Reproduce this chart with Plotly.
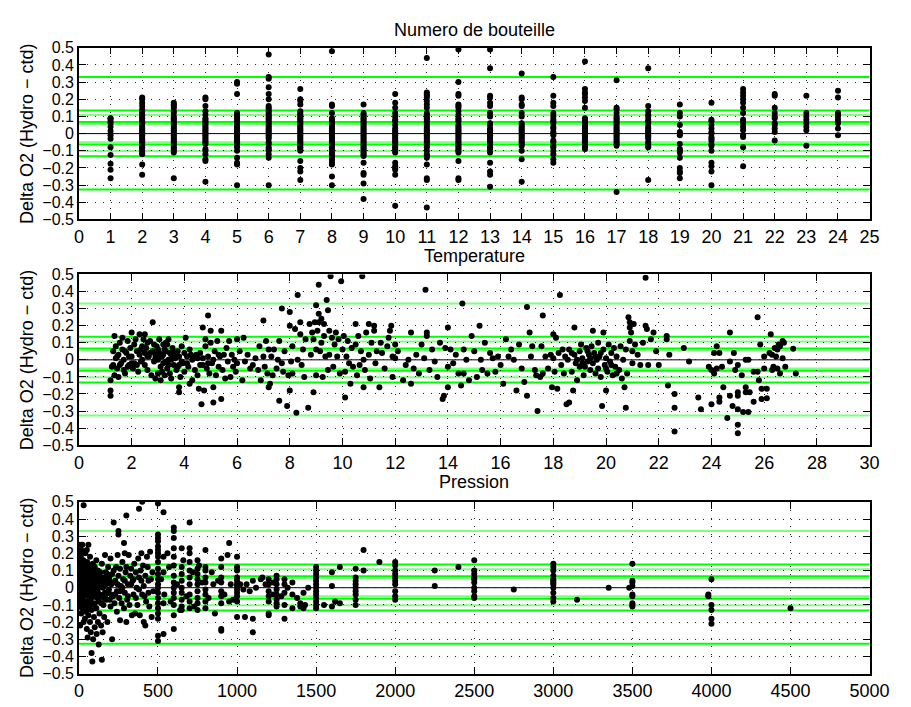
import plotly.graph_objects as go

# ---------------- data: panel 1 (bottle number) ----------------
b01 = [0.09, 0.088, 0.073, 0.06, 0.04, 0.015, -0.01, -0.03, -0.08, -0.125, -0.175, -0.21, -0.26]
b02 = [0.21, 0.2, 0.18, 0.16, 0.14, 0.13, 0.12, 0.11, 0.1, 0.09, 0.08, 0.07, 0.065, 0.06, 0.05, 0.04, 0.03, 0.02, 0.01, 0.005, 0.0,
       -0.01, -0.02, -0.03, -0.04, -0.05, -0.06, -0.07, -0.08, -0.09, -0.1, -0.11, -0.12, -0.18, -0.24]
b03 = [0.18, 0.17, 0.16, 0.15, 0.13, 0.12, 0.1, 0.09, 0.08, 0.07, 0.06, 0.05, 0.04, 0.03, 0.02, 0.01, 0.0, -0.01, -0.02, -0.03,
       -0.04, -0.05, -0.06, -0.07, -0.08, -0.09, -0.1, -0.11, -0.26]
b04 = [0.21, 0.2, 0.16, 0.13, 0.11, 0.09, 0.08, 0.07, 0.06, 0.05, 0.04, 0.03, 0.02, 0.01, 0.0, -0.01, -0.02, -0.03, -0.04, -0.05,
       -0.06, -0.09, -0.1, -0.12, -0.15, -0.16, -0.28]
b05 = [0.3, 0.29, 0.23, 0.12, 0.11, 0.1, 0.09, 0.08, 0.07, 0.06, 0.05, 0.04, 0.03, 0.02, 0.01, 0.0, -0.01, -0.02, -0.03, -0.04,
       -0.05, -0.06, -0.07, -0.08, -0.1, -0.14, -0.17, -0.18, -0.3]
b06 = [0.46, 0.33, 0.32, 0.27, 0.23, 0.2, 0.16, 0.15, 0.14, 0.13, 0.12, 0.11, 0.1, 0.09, 0.08, 0.07, 0.06, 0.05, 0.04, 0.03, 0.02,
       0.01, 0.0, -0.01, -0.02, -0.03, -0.05, -0.06, -0.08, -0.09, -0.1, -0.12, -0.14, -0.3]
b07 = [0.26, 0.2, 0.19, 0.17, 0.13, 0.12, 0.11, 0.1, 0.09, 0.08, 0.07, 0.06, 0.05, 0.04, 0.03, 0.02, 0.01, 0.0, -0.01, -0.02,
       -0.03, -0.04, -0.05, -0.06, -0.07, -0.08, -0.09, -0.1, -0.16, -0.2, -0.22, -0.27]
b08 = [0.48, 0.17, 0.16, 0.12, 0.09, 0.08, 0.07, 0.06, 0.05, 0.04, 0.03, 0.02, 0.01, 0.0, -0.01, -0.02, -0.03, -0.04, -0.05, -0.06,
       -0.07, -0.08, -0.09, -0.1, -0.11, -0.12, -0.13, -0.14, -0.15, -0.16, -0.17, -0.18, -0.25, -0.3]
b09 = [0.17, 0.12, 0.11, 0.1, 0.09, 0.08, 0.07, 0.06, 0.05, 0.04, 0.03, 0.02, 0.01, 0.0, -0.01, -0.02, -0.03, -0.04, -0.05, -0.06,
       -0.07, -0.08, -0.09, -0.1, -0.11, -0.12, -0.13, -0.17, -0.23, -0.24, -0.29, -0.38]
b10 = [0.23, 0.18, 0.15, 0.12, 0.1, 0.08, 0.07, 0.05, 0.03, 0.02, 0.01, 0.0, -0.01, -0.02, -0.03, -0.04, -0.05, -0.06, -0.07,
       -0.08, -0.09, -0.1, -0.11, -0.17, -0.19, -0.2, -0.21, -0.24, -0.42]
b11 = [0.44, 0.24, 0.23, 0.22, 0.21, 0.19, 0.17, 0.15, 0.12, 0.11, 0.1, 0.09, 0.08, 0.07, 0.06, 0.05, 0.04, 0.03, 0.02, 0.01, 0.0,
       -0.01, -0.02, -0.03, -0.04, -0.05, -0.06, -0.07, -0.08, -0.1, -0.12, -0.13, -0.14, -0.18, -0.26, -0.27, -0.43]
b12 = [0.49, 0.3, 0.23, 0.22, 0.17, 0.16, 0.15, 0.13, 0.11, 0.09, 0.08, 0.07, 0.05, 0.04, 0.03, 0.02, 0.01, 0.0, -0.01, -0.02,
       -0.03, -0.04, -0.05, -0.06, -0.07, -0.08, -0.09, -0.1, -0.11, -0.16, -0.26, -0.27]
b13 = [0.49, 0.38, 0.22, 0.21, 0.18, 0.16, 0.12, 0.1, 0.06, 0.05, 0.03, 0.02, 0.01, 0.0, -0.01, -0.02, -0.03, -0.04, -0.05, -0.06,
       -0.07, -0.08, -0.09, -0.11, -0.17, -0.22, -0.24, -0.31]
b14 = [0.35, 0.21, 0.2, 0.17, 0.16, 0.12, 0.1, 0.06, 0.05, 0.04, 0.03, 0.02, 0.01, 0.0, -0.01, -0.02, -0.03, -0.04, -0.05, -0.06,
       -0.07, -0.1, -0.15, -0.28]
b15 = [0.33, 0.22, 0.18, 0.16, 0.12, 0.1, 0.08, 0.07, 0.06, 0.04, 0.03, 0.01, 0.0, -0.01, -0.04, -0.05, -0.07, -0.08, -0.1, -0.12,
       -0.15, -0.17]
b16 = [0.42, 0.26, 0.24, 0.23, 0.21, 0.19, 0.15, 0.09, 0.08, 0.07, 0.06, 0.05, 0.04, 0.03, 0.02, 0.01, 0.0, -0.01, -0.02, -0.03,
       -0.04, -0.05, -0.06, -0.07, -0.08, -0.09]
b17 = [0.31, 0.15, 0.14, 0.12, 0.1, 0.09, 0.08, 0.07, 0.06, 0.05, 0.04, 0.03, 0.02, 0.01, 0.0, -0.01, -0.02, -0.03, -0.04, -0.05,
       -0.06, -0.07, -0.34]
b18 = [0.38, 0.16, 0.13, 0.11, 0.1, 0.08, 0.07, 0.06, 0.04, 0.03, 0.02, 0.01, 0.0, -0.01, -0.02, -0.03, -0.05, -0.06, -0.07, -0.08,
       -0.27]
b19 = [0.17, 0.12, 0.1, 0.05, 0.01, 0.0, -0.01, -0.06, -0.09, -0.1, -0.11, -0.14, -0.2, -0.22, -0.23, -0.26]
b20 = [0.18, 0.08, 0.07, 0.05, 0.03, 0.01, 0.0, -0.02, -0.03, -0.04, -0.06, -0.07, -0.1, -0.17, -0.19, -0.22, -0.3]
b21 = [0.26, 0.24, 0.22, 0.2, 0.18, 0.15, 0.12, 0.08, 0.07, 0.06, 0.04, 0.02, -0.01, -0.02, -0.08, -0.19]
b22 = [0.23, 0.22, 0.15, 0.12, 0.1, 0.09, 0.06, 0.05, 0.03, 0.01, -0.04]
b23 = [0.22, 0.12, 0.1, 0.08, 0.06, 0.04, 0.02, -0.07]
b24 = [0.25, 0.21, 0.12, 0.11, 0.1, 0.08, 0.06, 0.03, -0.01]
bottle_deltas = [b01, b02, b03, b04, b05, b06, b07, b08, b09, b10, b11, b12,
                 b13, b14, b15, b16, b17, b18, b19, b20, b21, b22, b23, b24]

# ---------------- data: panel 2 (temperature, delta) ----------------
temp_pts_a = [(1.2,-0.12),(1.2,-0.18),(1.2,-0.21),(1.25,-0.04),(1.3,0.05),(1.3,-0.03),(1.35,0.14),(1.35,-0.09),(1.4,0.01),(1.4,0.08),
    (1.45,-0.05),(1.5,0.03),(1.5,-0.1),(1.55,0.1),(1.6,-0.02),(1.65,0.13),(1.65,0.06),(1.7,-0.06),(1.7,0.0),(1.75,-0.08),(1.8,0.04),
    (1.85,0.11),(1.9,-0.03),(1.95,0.07),(2.0,0.16),(2.0,0.02),(2.05,-0.05),(2.1,0.09),(2.1,-0.02),(2.15,0.12),(2.2,0.05),(2.25,-0.07),
    (2.3,0.15),(2.3,0.03),(2.35,-0.01),(2.4,0.08),(2.45,0.12),(2.5,0.15),(2.5,0.04),(2.5,-0.03),(2.55,0.07),(2.6,0.1),(2.6,-0.06),
    (2.65,0.02),(2.7,0.11),(2.75,-0.09),(2.8,0.22),(2.8,0.05),(2.85,-0.01),(2.9,0.03),(2.9,-0.11),(2.95,0.08),(3.0,0.0),(3.0,-0.08),
    (3.05,0.12),(3.05,0.04),(3.1,-0.04),(3.1,-0.12),(3.15,0.02),(3.2,0.09),(3.2,-0.02),(3.25,-0.09),(3.3,0.1),(3.3,0.05),(3.35,-0.05),
    (3.4,0.0),(3.4,0.12),(3.45,-0.08),(3.5,0.03),(3.5,-0.11),(3.55,0.07),(3.6,-0.03),(3.65,0.01),(3.7,-0.06),(3.75,0.05),(3.8,-0.16),
    (3.8,-0.19),(3.8,0.02),(3.85,-0.1),(3.9,0.08),(3.95,-0.02),(4.0,0.04),(4.0,-0.07),(4.05,0.13),(4.1,0.02),(4.15,-0.04),(4.2,-0.14),
    (4.2,0.06),(4.3,-0.12),(4.35,0.01),(4.4,-0.06),(4.45,0.03),(4.5,-0.09),(4.55,-0.17),(4.6,0.04),(4.65,-0.26),(4.7,0.19),(4.7,-0.03),
    (4.75,-0.18),(4.8,0.12),(4.8,0.08),(4.85,-0.05),(4.9,0.26),(4.9,0.02),(4.95,-0.08),(5.0,0.17),(5.0,0.1),(5.05,-0.02),(5.1,-0.16),
    (5.1,-0.25),(5.15,0.05),(5.2,-0.09),(5.25,0.11),(5.3,-0.04),(5.35,0.02),(5.4,0.17),(5.4,-0.23),(5.45,-0.06),(5.5,0.03),(5.55,-0.11),
    (5.6,0.07),(5.65,-0.01),(5.7,0.11),(5.75,-0.1),(5.8,0.03),(5.85,-0.04),(5.9,0.0),(5.95,-0.07),(6.0,0.12),(6.0,-0.02),
    (1.45,0.02),(1.55,-0.03),(1.75,0.05),(1.9,0.02),(2.0,-0.02),(2.2,-0.03),(2.4,0.0),(2.6,0.02),(2.7,0.04),(2.9,0.01),(3.0,0.06),
    (3.1,0.02),(3.2,0.03),(3.3,-0.01),(3.4,-0.03),(3.5,0.0),(3.6,0.04),(3.7,0.02),(3.8,-0.03),(3.9,-0.01),(4.1,-0.02),(4.3,0.0),
    (4.5,0.01),(4.7,0.01),(4.9,-0.02),(5.1,0.0),(5.3,0.03),(3.35,0.09),(3.25,0.06),(2.85,0.09),(2.35,0.06),(1.85,-0.04),(3.15,-0.07),
    (3.45,0.04),(3.75,-0.04),(4.25,0.03),(4.6,-0.03)]
temp_pts_b = [(6.1,0.05),(6.2,-0.12),(6.25,0.13),(6.3,-0.01),(6.4,0.03),(6.5,-0.05),(6.6,-0.03),(6.7,0.01),(6.8,-0.06),(6.85,0.08),
    (6.9,-0.12),(7.0,0.23),(7.0,0.02),(7.05,-0.04),(7.1,0.11),(7.15,-0.08),(7.2,0.06),(7.2,-0.16),(7.25,-0.14),(7.3,0.02),(7.35,-0.09),
    (7.4,0.06),(7.5,-0.05),(7.55,0.0),(7.6,0.11),(7.6,-0.24),(7.7,0.3),(7.7,-0.02),(7.75,-0.07),(7.8,0.05),(7.9,-0.27),(7.95,-0.09),
    (8.0,0.28),(8.0,0.2),(8.0,-0.18),(8.05,-0.01),(8.1,0.08),(8.1,-0.08),(8.2,0.18),(8.25,-0.31),(8.3,0.38),(8.3,0.0),(8.4,0.22),
    (8.4,0.15),(8.45,-0.03),(8.5,0.06),(8.55,-0.1),(8.6,0.12),(8.7,-0.28),(8.75,0.21),(8.8,0.03),(8.85,0.16),(8.9,-0.19),(8.9,0.12),
    (8.95,0.22),(9.0,0.32),(9.0,0.06),(9.0,-0.09),(9.05,0.17),(9.1,0.44),(9.1,0.27),(9.1,0.22),(9.15,0.05),(9.2,0.24),(9.2,0.1),
    (9.25,-0.1),(9.3,0.21),(9.3,0.14),(9.35,0.02),(9.4,0.35),(9.45,0.29),(9.45,-0.06),(9.5,0.17),(9.5,0.03),(9.55,0.49),(9.6,0.13),
    (9.65,-0.04),(9.7,0.09),(9.75,0.16),(9.8,0.02),(9.85,0.12),(9.9,-0.08),(9.95,0.46),(10.0,0.06),(10.05,0.14),(10.1,-0.22),
    (10.1,-0.07),(10.15,0.02),(10.2,0.11),(10.25,-0.02),(10.3,-0.14),(10.35,0.07),(10.4,-0.04),(10.5,0.21),(10.5,0.09),(10.55,-0.09),
    (10.6,0.14),(10.65,-0.03),(10.7,0.05),(10.75,0.49),(10.8,-0.16),(10.8,0.0),(10.85,-0.06),(10.9,0.16),(11.0,0.21),(11.0,0.03),
    (11.05,-0.11),(11.1,0.1),(11.2,0.17),(11.2,0.2),(11.25,-0.02),(11.3,0.05),(11.4,-0.16),(11.45,0.1),(11.5,0.04),(11.6,-0.05),
    (11.7,0.08),(11.75,0.13),(11.8,0.17),(11.85,0.2),(11.9,0.02),(11.9,-0.1),(12.0,0.09),(12.0,0.01),(12.1,0.05),(12.3,-0.12),
    (12.4,-0.03),(12.5,0.0),(12.6,-0.14),(12.6,0.16),(12.7,-0.05),(12.8,0.03),(12.9,-0.08),(13.0,0.09),(13.1,0.01),(13.15,0.41),
    (13.2,0.16),(13.2,0.14),(13.3,-0.06),(13.4,0.06),(13.5,-0.01),(13.6,-0.1),(13.7,0.1),(13.8,-0.23),(13.85,-0.21),(13.9,0.07),
    (14.0,-0.16),(14.0,0.19),(14.0,-0.04)]
temp_pts_c = [(14.1,0.06),(14.2,-0.02),(14.3,0.03),(14.4,-0.08),(14.5,-0.15),(14.55,0.33),(14.6,-0.08),(14.6,0.06),(14.7,0.0),
    (14.8,-0.12),(14.9,0.14),(15.0,0.05),(15.1,-0.1),(15.2,0.2),(15.25,0.0),(15.3,-0.06),(15.4,0.1),(15.5,-0.08),(15.6,0.04),
    (15.7,0.01),(15.8,-0.07),(15.9,0.02),(16.0,-0.03),(16.1,-0.14),(16.2,0.12),(16.3,0.02),(16.4,0.06),(16.5,0.0),(16.6,-0.18),
    (16.7,0.09),(16.8,-0.05),(16.9,-0.13),(17.0,0.31),(17.0,-0.21),(17.1,0.16),(17.15,0.02),(17.2,0.08),(17.3,-0.06),(17.35,-0.09),
    (17.4,-0.3),(17.5,-0.1),(17.55,0.08),(17.6,0.26),(17.6,-0.08),(17.7,0.02),(17.8,-0.05),(17.9,0.03),(17.95,-0.16),(18.0,0.15),
    (18.0,0.01),(18.05,-0.07),(18.1,0.13),(18.15,-0.17),(18.2,0.04),(18.25,0.38),(18.3,-0.03),(18.35,0.06),(18.4,-0.08),(18.45,0.02),
    (18.5,-0.26),(18.55,0.0),(18.6,-0.25),(18.6,0.06),(18.7,-0.07),(18.75,-0.18),(18.8,0.19),(18.8,0.03),(18.85,-0.02),(18.9,-0.12),
    (19.0,0.05),(19.0,-0.04),(19.05,0.09),(19.1,0.01),(19.15,-0.09),(19.2,-0.04),(19.25,0.07),(19.3,-0.01),(19.35,0.03),(19.4,-0.06),
    (19.45,0.08),(19.5,0.17),(19.5,-0.02),(19.55,0.04),(19.6,-0.08),(19.65,0.0),(19.7,0.1),(19.7,-0.05),(19.75,0.02),(19.8,-0.1),
    (19.85,-0.27),(19.9,0.16),(19.9,0.06),(19.95,-0.03),(20.0,-0.18),(20.0,0.01),(20.05,-0.07),(20.1,0.09),(20.15,-0.01),(20.2,0.04),
    (20.25,-0.09),(20.3,0.07),(20.35,-0.04),(20.4,0.02),(20.5,-0.06),(20.55,0.08),(20.6,-0.11),(20.65,0.0),(20.7,-0.16),(20.75,-0.28),
    (20.75,0.06),(20.8,-0.08),(20.85,0.25),(20.9,0.22),(20.9,0.19),(20.9,0.11),(20.95,0.16),(21.0,0.05),(21.0,-0.02),(21.05,0.21),
    (21.1,0.09),(21.2,0.03),(21.3,-0.03),(21.4,0.1),(21.5,0.48),(21.5,0.2),(21.55,0.18),(21.6,-0.03),(21.7,0.12),(21.8,0.16),
    (21.9,0.05),(22.0,-0.03),(22.3,0.14),(22.3,0.12),(22.35,-0.15),(22.4,0.03),
    (18.9,0.0),(19.1,-0.02),(19.3,0.05),(19.6,0.02),(19.8,0.04),(20.0,-0.05),(20.2,-0.03),(20.4,-0.08),(19.4,0.01),(18.7,0.04)]
temp_pts_d = [(22.6,-0.2),(22.6,-0.28),(22.6,-0.42),(22.95,0.07),(23.15,-0.01),(23.5,-0.22),(23.6,-0.29),(23.9,-0.04),(24.0,-0.06),
    (24.0,-0.26),(24.1,0.04),(24.1,-0.08),(24.2,0.08),(24.2,-0.05),(24.3,0.04),(24.3,-0.22),(24.3,-0.245),(24.4,-0.04),(24.45,-0.16),
    (24.6,-0.34),(24.7,0.16),(24.7,-0.01),(24.7,-0.21),(24.8,-0.27),(24.85,0.04),(24.9,-0.06),(25.0,-0.03),(25.0,-0.19),(25.0,-0.21),
    (25.0,-0.29),(25.0,-0.38),(25.0,-0.43),(25.15,-0.09),(25.2,-0.305),(25.3,0.0),(25.3,-0.16),(25.3,-0.19),(25.4,0.0),(25.4,-0.305),
    (25.45,-0.19),(25.6,-0.07),(25.6,-0.245),(25.75,0.25),(25.75,-0.07),(25.8,-0.12),(25.85,0.09),(25.9,-0.17),(25.9,-0.23),
    (26.0,-0.05),(26.0,0.02),(26.1,-0.17),(26.1,-0.225),(26.2,0.04),(26.25,0.15),(26.3,0.03),(26.3,-0.06),(26.35,-0.04),(26.4,0.07),
    (26.45,0.02),(26.5,0.06),(26.5,-0.05),(26.55,0.09),(26.6,-0.08),(26.6,0.08),(26.7,0.11),(26.7,0.01),(26.75,0.1),(26.8,-0.04),
    (27.1,0.065),(27.2,-0.08)]

# ---------------- data: panel 3 (pressure, delta) ----------------
pres_pts_a = [(5,0.25),(5,0.2),(5,0.15),(5,0.1),(5,0.05),(5,0.0),(5,-0.05),(5,-0.1),(8,-0.22),(10,0.12),(10,0.02),(10,-0.08),
    (12,0.18),(15,0.22),(15,-0.03),(15,-0.15),(18,0.07),(20,0.1),(20,-0.12),(22,0.25),(25,0.04),(25,-0.06),(28,0.16),(30,0.48),
    (30,-0.02),(30,-0.2),(32,0.13),(35,0.08),(35,-0.1),(38,-0.18),(40,0.2),(40,0.01),(42,-0.04),(45,0.11),(45,-0.14),(48,0.06),
    (50,0.22),(50,-0.08),(50,-0.24),(52,0.15),(55,0.0),(55,-0.29),(58,0.09),(60,0.25),(60,-0.05),(60,-0.16),(62,0.04),(65,0.13),
    (65,-0.11),(68,-0.02),(70,0.18),(70,0.07),(70,-0.2),(72,-0.07),(75,0.02),(75,-0.26),(78,0.1),(80,-0.38),(80,-0.13),(82,0.05),
    (85,-0.43),(85,-0.03),(88,0.14),(90,-0.3),(90,0.08),(92,-0.09),(95,0.0),(95,-0.17),(100,0.12),(100,-0.05),(100,-0.23),(105,0.04),
    (110,-0.12),(110,0.16),(112,-0.27),(115,0.07),(118,-0.02),(120,-0.2),(120,0.1),(125,-0.08),(125,-0.33),(130,0.02),(130,-0.15),
    (135,0.09),(140,-0.05),(140,-0.22),(145,-0.42),(145,0.14),(150,0.03),(150,-0.26),(155,-0.1),(160,0.06),(160,-0.17),(165,0.19),
    (165,-0.03),(170,0.09),(175,-0.07),(180,0.04),(180,-0.2),(185,0.12),(190,-0.01),(195,0.07),(200,-0.11),(200,0.17),(205,0.02),
    (210,-0.3),(210,0.08),(215,-0.05),(220,0.38),(220,0.1),(225,-0.09),(230,0.04),(235,0.12),(240,-0.02),(240,-0.14),(245,0.19),
    (250,0.33),(250,0.31),(250,0.07),(255,-0.06),(260,-0.19),(260,0.11),(265,0.01),(270,-0.09),(275,0.15),(280,0.05),(285,0.26),
    (285,-0.12),(290,0.2),(290,-0.03),(295,0.09),(300,0.42),(300,-0.2),(300,0.12),(305,-0.07),(310,0.02),(315,0.19),(320,-0.1),
    (325,0.07),(330,0.11),(335,-0.16),(340,0.04),(345,-0.04),(350,0.14),(355,-0.15),(360,0.09),(365,0.0),(370,-0.1),(375,0.17),
    (380,0.46),(380,0.06),(385,-0.16),(390,0.1),(395,0.2),(400,-0.04),(400,0.5),(405,0.13),(410,-0.2),(410,0.01),(420,-0.22),
    (420,0.07),(425,-0.08),(430,0.18),(435,0.12),(440,-0.03),(445,-0.11),(450,0.21),(455,0.05),(460,-0.17),(465,0.09),(470,-0.02),
    (3,0.08),(3,-0.03),(6,0.03),(7,0.13),(8,-0.01),(12,0.06),(12,-0.06),(18,0.0),(20,0.05),(25,0.12),(28,-0.09),(33,0.03),(38,0.0),
    (40,0.09),(45,0.02),(48,-0.03),(52,0.07),(55,-0.12),(58,-0.04),(62,0.11),(65,0.03),(68,-0.08),(72,0.06),(75,-0.01),(78,-0.06),
    (82,0.01),(85,0.1),(88,-0.05),(92,0.03),(95,0.07),(98,-0.1),(105,-0.02),(108,0.09),(112,0.01),(115,-0.06),(118,0.05),(122,0.0),
    (128,0.08),(132,-0.04),(138,0.03),(142,-0.09),(148,0.06),(152,0.0),(158,-0.06),(162,0.03),(168,-0.04),(172,0.02),(178,0.08),
    (185,-0.03),(190,0.05),(195,-0.07),(205,-0.04),(215,0.03),(230,-0.04),(245,0.02),(260,-0.02),(275,0.0),(290,0.04),(310,-0.05),
    (330,0.02),(345,0.05),(360,-0.06),(380,-0.01),(395,0.04),(415,-0.05),(440,0.04)]
pres_pts_b = [(520,0.05),(535,0.44),(535,0.18),(535,0.09),(535,-0.09),(535,-0.27),(540,-0.04),(560,0.2),(570,0.12),(580,-0.08),
    (620,0.02),(640,-0.13),(660,0.16),(680,-0.05),(720,0.09),(730,-0.11),(760,0.13),(780,0.03),(820,-0.06),(840,0.09),(850,0.02),
    (860,-0.15),(880,0.04),(920,-0.04),(940,0.19),(950,0.26),(950,-0.08),(960,0.02),(975,-0.07),(1020,0.02),(1040,-0.01),
    (1050,-0.17),(1060,0.02),(1080,-0.02),(1100,0.04),(1100,-0.18),(1100,-0.26),(1120,0.0),(1150,0.05),(1160,0.06),(1180,0.02),
    (1230,0.03),(1230,-0.04),(1280,-0.05),(1320,0.0),(1350,0.03),(1350,-0.04),(1350,-0.12),(1380,-0.06),(1400,-0.09),(1400,-0.11),
    (1420,-0.03),(1420,-0.12),(1430,-0.1),(1450,0.0),(1550,-0.1),(1600,0.09),(1600,0.01),(1600,-0.11),(1620,-0.08),(1650,0.12),
    (1650,-0.09),(1800,0.22),(1800,0.1),(1900,0.15),(2250,0.1),(2250,0.01),(2400,0.12),(2750,-0.01),(3150,-0.07),(3350,0.0),
    (3480,0.0),(3980,-0.04),(3980,-0.05),(4500,-0.12)]
pres_strip_levels = [500, 600, 650, 700, 750, 800, 900, 1000, 1200, 1250, 1300, 1500, 1750, 2000, 2500, 3000, 3500, 4000]
pres_strip_deltas = [
    [0.49, 0.31, 0.29, 0.27, 0.24, 0.22, 0.2, 0.18, 0.15, 0.11, 0.08, 0.05, 0.02, 0.0, -0.03, -0.06, -0.09, -0.12, -0.15, -0.18, -0.28, -0.31],
    [0.35, 0.33, 0.29, 0.23, 0.18, 0.13, 0.07, 0.03, 0.0, -0.03, -0.06, -0.1, -0.16, -0.24],
    [0.23, 0.12, 0.08, 0.04, 0.0, -0.03, -0.07, -0.11, -0.13],
    [0.38, 0.23, 0.2, 0.15, 0.1, 0.06, 0.02, -0.04, -0.08, -0.12],
    [0.16, 0.11, 0.08, 0.05, 0.02, -0.02, -0.06, -0.09, -0.13],
    [0.22, 0.12, 0.1, 0.06, 0.03, -0.01, -0.04, -0.08, -0.12],
    [0.17, 0.12, 0.06, 0.03, -0.02, -0.05, -0.09, -0.24, -0.25],
    [0.18, 0.12, 0.1, 0.06, 0.04, 0.02, 0.01, -0.01, -0.03, -0.05, -0.08, -0.17],
    [0.05, 0.02, -0.02, -0.05, -0.08, -0.15, -0.16],
    [0.07, 0.05, 0.02, -0.01, -0.04, -0.07, -0.09, -0.11],
    [0.05, 0.02, -0.03, -0.1, -0.18],
    [0.12, 0.1, 0.08, 0.06, 0.04, 0.02, 0.0, -0.02, -0.04, -0.06, -0.08, -0.1, -0.12],
    [0.11, 0.06, 0.04, 0.02, 0.0, -0.02, -0.04, -0.07, -0.1],
    [0.15, 0.13, 0.1, 0.08, 0.06, 0.04, 0.02, -0.02, -0.05, -0.07],
    [0.16, 0.1, 0.08, 0.06, 0.05, 0.03, 0.0, -0.02, -0.05, -0.06],
    [0.14, 0.12, 0.1, 0.07, 0.05, 0.04, 0.03, 0.02, 0.0, -0.03, -0.06, -0.08],
    [0.14, 0.04, 0.03, 0.01, -0.04, -0.05, -0.09, -0.1, -0.11],
    [0.05, -0.1, -0.13, -0.18, -0.21],
]

# threshold lines (green) and their shade
thresholds = [0.33, 0.135, 0.108, 0.067, 0.056, -0.05, -0.064, -0.102, -0.132, -0.326]
threshold_kind = ["b", "b", "l", "b", "l", "l", "b", "l", "b", "b"]  # b=bright, l=light
panel_titles = ["Numero de bouteille", "Temperature", "Pression"]
y_label = "Delta O2 (Hydro \u2212 ctd)"

# ---------------- build ----------------
FONT = "Liberation Sans, Arial, Helvetica, sans-serif"
W, H = 911, 707
x_dom = [76 / W, 889 / W]
panels_px = [(40.7, 216.7), (273, 448), (506, 682)]
y_doms = [[1 - b / H, 1 - t / H] for t, b in panels_px]

x1, y1 = [], []
for i, vals in enumerate(bottle_deltas):
    x1 += [i + 1] * len(vals)
    y1 += vals
t_all = temp_pts_a + temp_pts_b + temp_pts_c + temp_pts_d
x2 = [p[0] for p in t_all]
y2 = [p[1] for p in t_all]
p_all = pres_pts_a + pres_pts_b
x3 = [p[0] for p in p_all]
y3 = [p[1] for p in p_all]
for lev, vals in zip(pres_strip_levels, pres_strip_deltas):
    x3 += [lev] * len(vals)
    y3 += vals

marker = dict(color="black", size=6, line=dict(width=0))
fig = go.Figure()
for k, (xs, ys) in enumerate([(x1, y1), (x2, y2), (x3, y3)]):
    sfx = "" if k == 0 else str(k + 1)
    fig.add_trace(go.Scatter(x=xs, y=ys, mode="markers", marker=marker,
                             xaxis="x" + sfx, yaxis="y" + sfx, showlegend=False,
                             hoverinfo="skip"))

x_ranges = [[0, 25], [0, 30], [0, 5000]]
x_ticks = [list(range(0, 26)), list(range(0, 31, 2)), list(range(0, 5001, 500))]
y_vals = [round(-0.5 + 0.1 * i, 1) for i in range(11)]
y_text = [("0" if abs(v) < 1e-9 else (("\u2212" + str(abs(v))) if v < 0 else str(v))) for v in y_vals]

axis_common = dict(showline=True, linecolor="black", linewidth=1.5, mirror="allticks",
                   ticks="inside", ticklen=7, tickwidth=1, tickcolor="black",
                   showgrid=True, gridcolor="#222222", gridwidth=1, griddash="1px,7px",
                   zeroline=False)
layout = dict(width=W, height=H, margin=dict(l=0, r=0, t=0, b=0),
              paper_bgcolor="white", plot_bgcolor="white", showlegend=False)
for k in range(3):
    sfx = "" if k == 0 else str(k + 1)
    layout["xaxis" + sfx] = dict(axis_common, domain=x_dom, range=x_ranges[k],
                                 tickvals=x_ticks[k], ticktext=[str(v) for v in x_ticks[k]],
                                 tickfont=dict(family=FONT, size=18, color="black"),
                                 anchor="y" + sfx)
    layout["yaxis" + sfx] = dict(axis_common, domain=y_doms[k], range=[-0.5, 0.5],
                                 tickvals=y_vals, ticktext=y_text,
                                 tickfont=dict(family=FONT, size=16, color="black"),
                                 anchor="x" + sfx)
fig.update_layout(**layout)

panel_shade = [["b", "b"], ["l", "l"], ["l", "b"]]
shapes = []
for k in range(3):
    sfx = "" if k == 0 else str(k + 1)
    for v, kind in zip(thresholds, threshold_kind):
        if abs(v) > 0.3:
            kind = panel_shade[k][0 if v > 0 else 1]
        col = "#00ff00" if kind == "b" else "#80ff80"
        shapes.append(dict(type="line", xref="x" + sfx + " domain", yref="y" + sfx,
                           x0=0, x1=1, y0=v, y1=v, line=dict(color=col, width=2), layer="below"))
    shapes.append(dict(type="line", xref="x" + sfx + " domain", yref="y" + sfx,
                       x0=0, x1=1, y0=0, y1=0, line=dict(color="black", width=1), layer="below"))
fig.update_layout(shapes=shapes)

annotations = []
title_y = [21, 252, 484]
for k in range(3):
    annotations.append(dict(text=panel_titles[k], xref="paper", yref="paper",
                            x=(76 + 889) / 2 / W, y=1 - (title_y[k] + 2) / H,
                            xanchor="center", yanchor="middle", showarrow=False,
                            font=dict(family=FONT, size=18, color="black")))
    t, b = panels_px[k]
    annotations.append(dict(text=y_label, xref="paper", yref="paper",
                            x=22 / W, y=1 - (t + b) / 2 / H, textangle=-90,
                            xanchor="center", yanchor="middle", showarrow=False,
                            font=dict(family=FONT, size=18, color="black")))
fig.update_layout(annotations=annotations)

fig.write_html("out.html")
